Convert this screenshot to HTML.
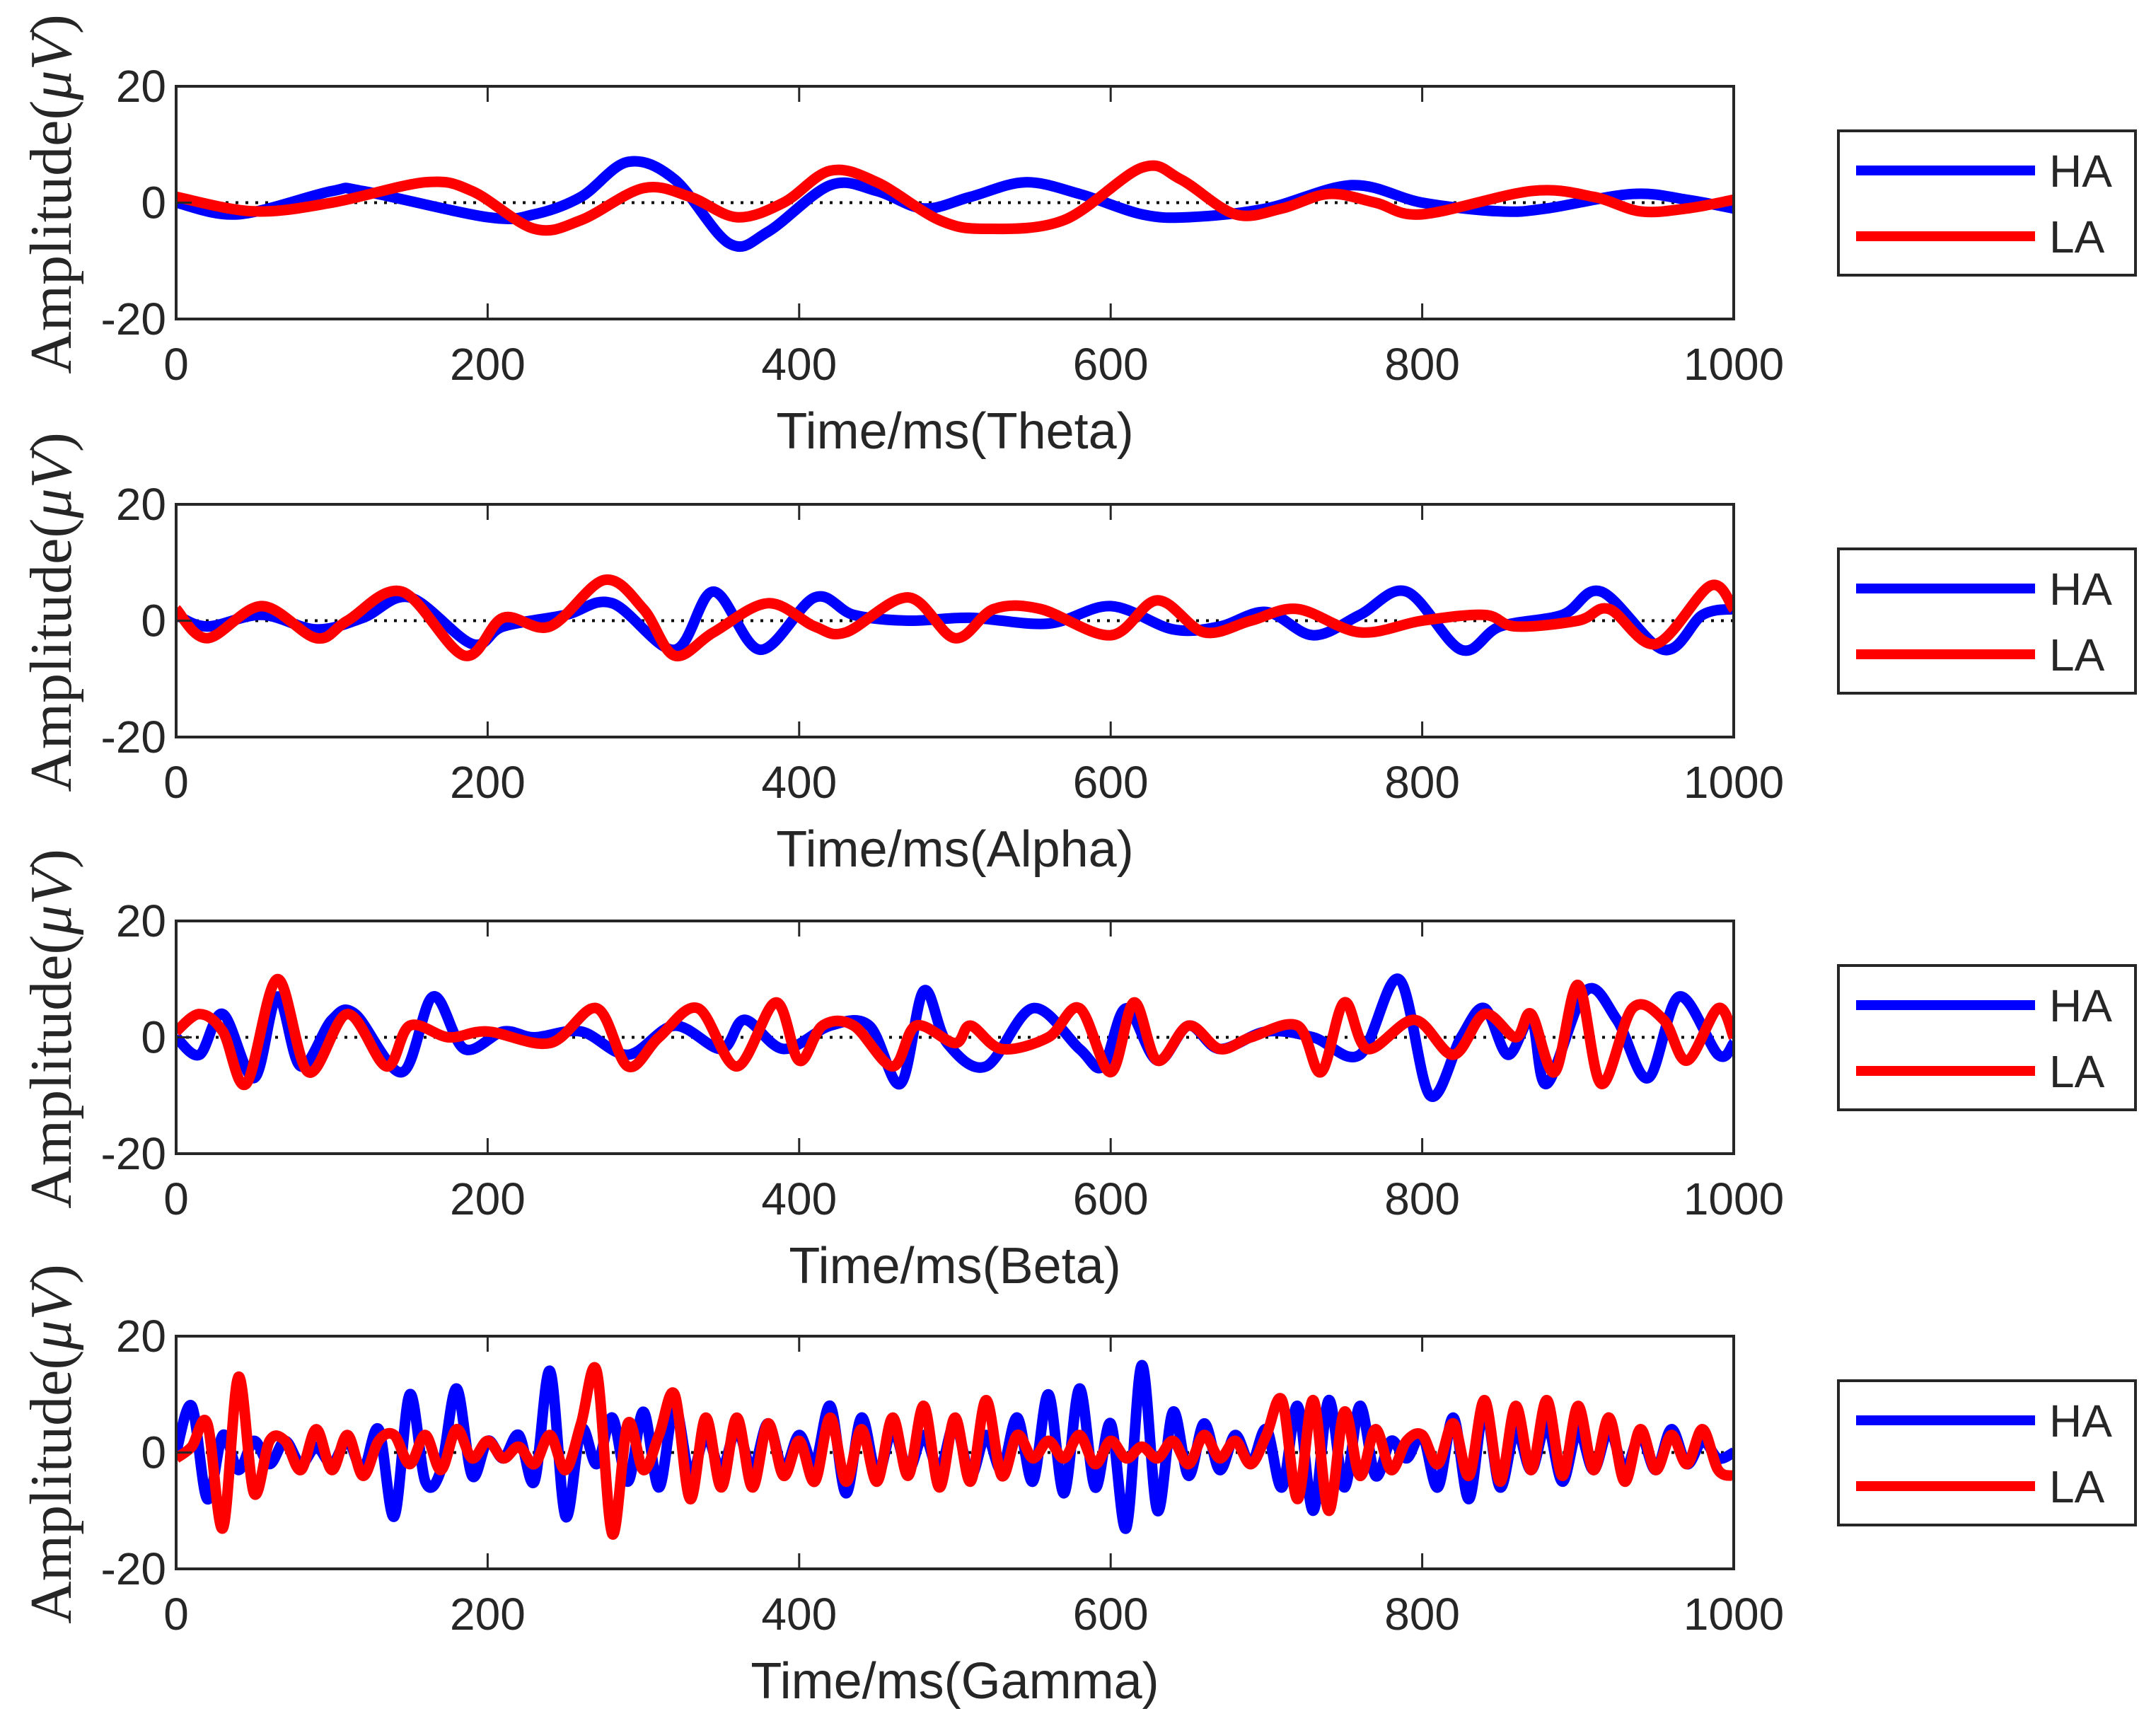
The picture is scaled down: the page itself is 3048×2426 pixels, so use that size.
<!DOCTYPE html>
<html><head><meta charset="utf-8"><style>
html,body{margin:0;padding:0;background:#fff;}
svg{display:block;}
text{fill:#262626;}
</style></head><body>
<svg id="chart" width="3048" height="2426" viewBox="0 0 3048 2426" xmlns="http://www.w3.org/2000/svg"></svg>
<script>
const bandNames = ["Theta","Alpha","Beta","Gamma"];
const xTicks = [0,200,400,600,800,1000];
const yTicks = [20,0,-20];
const legendLabels = ["HA","LA"];

const thetaT_HA = [0,40,100,120,200,230,260,290,320,355,380,420,450,480,510,545,580,620,650,700,755,800,850,880,935,970,1000];
const thetaV_HA = [0,-2,2,2,-2.5,-2,1,7,4,-7,-5,3,2,-1,1,3.5,1.5,-2,-2.5,-1,3,0,-1.5,-1,1.5,0.5,-1];
const thetaT_LA = [0,50,100,160,190,230,260,300,330,360,390,420,450,490,520,570,620,645,680,710,740,770,800,870,910,940,970,1000];
const thetaV_LA = [1,-1.5,0,3.5,2,-4.5,-3,2.5,1,-2.5,0,5.5,3.5,-3,-4.5,-3,6,4,-2,-1,1.5,0,-2,2,1,-1.5,-1,0.5];

const alphaT_HA = [0,20,55,90,120,150,190,210,250,280,320,345,375,410,435,470,510,560,600,640,670,700,730,760,790,825,850,890,915,955,980,1000];
const alphaV_HA = [1,-1,1,-1.5,0.5,4,-4,-1,1,3,-5,5,-5,4,1,0,0.5,-0.5,2.5,-1.5,-1,1.5,-2.5,1,5,-5,-1,1,5,-5,1,2];
const alphaT_LA = [0,20,55,90,110,145,185,210,240,275,300,320,345,380,410,430,470,500,525,555,600,630,660,690,720,760,800,840,860,900,920,950,985,1000];
const alphaV_LA = [2,-3,2.5,-3,0,5,-6,0.5,-1,7,2,-6,-2,3,-1,-2,4,-3,2,2,-2.5,3.5,-2,0,2,-2,0,1,-1,0,2,-4,6,2];

const betaT_HA = [0,15,30,50,65,80,100,115,145,165,185,210,230,260,290,320,350,365,390,420,445,465,480,495,520,550,580,595,610,630,650,670,700,730,760,785,805,825,840,855,870,880,905,925,945,965,990,1000];
const betaV_HA = [0,-3,4,-7,7,-5,3,4,-6,7,-2,1,0,1,-3,2,-2,3,-2,2,2,-8,8,-1,-5,5,-2,-5,5,-4,2,-2,1,0,-3,10,-10,0,5,-3,3,-8,8,3,-7,7,-3,-1];
const betaT_LA = [0,15,30,45,65,85,110,135,150,175,200,240,270,290,310,335,360,385,400,415,435,460,475,500,510,530,560,580,600,615,630,650,670,690,720,735,750,765,795,820,840,860,870,885,900,915,935,955,970,990,1000];
const betaV_LA = [1,4,1,-8,10,-6,4,-5,2,0,1,-1,5,-5,0,5,-5,6,-4,2,2,-5,2,-1,2,-2,0,5,-6,6,-4,2,-2,0,2,-6,6,-2,3,-3,4,0,4,-6,9,-8,5,3,-4,5,0];

const gammaT = [0,10,20,30,40,50,60,70,80,90,100,110,120,130,140,150,160,170,180,190,200,210,220,230,240,250,260,270,280,290,300,310,320,330,340,350,360,370,380,390,400,410,420,430,440,450,460,470,480,490,500,510,520,530,540,550,560,570,580,590,600,610,620,630,640,650,660,670,680,690,700,710,720,730,740,750,760,770,780,790,800,810,820,830,840,850,860,870,880,890,900,910,920,930,940,950,960,970,980,990,1000];
const gammaV_HA = [0,8,-8,3,-3,2,-2,2,-2,1,-2,2,-3,4,-11,10,-5,-3,11,-4,2,-1,3,-5,14,-11,4,-2,6,-5,7,-6,8,-4,3,-3,4,-3,5,-3,3,-2,8,-7,6,-4,4,-3,3,-3,5,-4,3,-3,6,-5,10,-7,11,-6,5,-13,15,-10,7,-4,5,-3,3,-2,4,-6,8,-10,9,-6,8,-4,2,-1,3,-6,6,-8,8,-6,4,-3,5,-5,4,-3,4,-3,3,-3,4,-2,2,-1,0];
const gammaV_LA = [-1,1,5,-13,13,-7,2,2,-3,4,-3,3,-4,2,3,-2,3,-3,4,-1,2,-1,1,-2,3,-3,5,14,-14,5,-3,3,10,-8,6,-6,6,-6,5,-4,2,-5,6,-5,4,-5,6,-4,8,-6,6,-5,9,-4,3,-1,2,-1,3,-2,2,-1,1,-1,2,-2,3,-1,2,-2,3,9,-8,9,-10,7,-4,4,-3,2,3,-2,5,-4,9,-5,8,-3,9,-4,8,-3,6,-5,4,-3,3,-2,4,-3,-4];

const seriesT = [[thetaT_HA,thetaT_LA],[alphaT_HA,alphaT_LA],[betaT_HA,betaT_LA],[gammaT,gammaT]];
const seriesV = [[thetaV_HA,thetaV_LA],[alphaV_HA,alphaV_LA],[betaV_HA,betaV_LA],[gammaV_HA,gammaV_LA]];

const NS = "http://www.w3.org/2000/svg";
const svg = document.getElementById("chart");
const colors = ["#0000ff","#ff0000"];
const L = 249, R = 2451;
const tops = [122,713,1302,1889];
const H = 329;

function mk(tag, attrs, parent){
  const e = document.createElementNS(NS, tag);
  for (const k in attrs) e.setAttribute(k, attrs[k]);
  parent.appendChild(e);
  return e;
}
function smoothPath(pts){
  let d = "M" + pts[0][0].toFixed(1) + "," + pts[0][1].toFixed(1);
  for (let i = 0; i < pts.length - 1; i++){
    const p0 = pts[Math.max(0,i-1)], p1 = pts[i], p2 = pts[i+1], p3 = pts[Math.min(pts.length-1,i+2)];
    const c1x = p1[0] + (p2[0]-p0[0])/6, c1y = p1[1] + (p2[1]-p0[1])/6;
    const c2x = p2[0] - (p3[0]-p1[0])/6, c2y = p2[1] - (p3[1]-p1[1])/6;
    d += " C" + c1x.toFixed(1) + "," + c1y.toFixed(1) + " " + c2x.toFixed(1) + "," + c2y.toFixed(1) + " " + p2[0].toFixed(1) + "," + p2[1].toFixed(1);
  }
  return d;
}

bandNames.forEach((band, p) => {
  const T = tops[p], B = T + H;
  const xs = t => L + (t/1000)*(R-L);
  const ys = v => T + (20 - v)/40*H;
  const g = mk("g", {}, svg);
  
  

  const clipId = "clip" + p;
  const cp = mk("clipPath", {id: clipId}, g);
  mk("rect", {x: L, y: T, width: R-L, height: H}, cp);

  const zl = mk("line", {x1: L, x2: R, y1: ys(0), y2: ys(0), stroke: "#000", "stroke-width": 4, "stroke-dasharray": "4 10"}, g);
  
  

  for (let s = 0; s < 2; s++){
    const pts = seriesT[p][s].map((t,i) => [xs(t), ys(seriesV[p][s][i])]);
    const path = mk("path", {d: smoothPath(pts), fill: "none", stroke: colors[s], "stroke-width": 15, "stroke-linejoin": "round", "clip-path": "url(#" + clipId + ")"}, g);
    
    
  }

  const frame = mk("rect", {x: L, y: T, width: R-L, height: H, fill: "none", stroke: "#262626", "stroke-width": 4}, g);
  
  

  xTicks.forEach(t => {
    const x = xs(t);
    mk("line", {x1: x, x2: x, y1: T, y2: T+22, stroke: "#262626", "stroke-width": 3}, g);
    mk("line", {x1: x, x2: x, y1: B, y2: B-22, stroke: "#262626", "stroke-width": 3}, g);
    const tl = mk("text", {x: x, y: B + 86, "text-anchor": "middle", "font-family": "Liberation Sans, sans-serif", "font-size": 64}, g);
    tl.textContent = t;
    
    
  });
  yTicks.forEach(v => {
    const y = ys(v);
    mk("line", {x1: L, x2: L+22, y1: y, y2: y, stroke: "#262626", "stroke-width": 3}, g);
    const tl = mk("text", {x: L - 14, y: y + 22, "text-anchor": "end", "font-family": "Liberation Sans, sans-serif", "font-size": 64}, g);
    tl.textContent = v;
    
    
  });

  const xt = mk("text", {x: (L+R)/2, y: B + 183, "text-anchor": "middle", "font-family": "Liberation Sans, sans-serif", "font-size": 72}, g);
  xt.textContent = "Time/ms(" + band + ")";
  
  

  const yt = mk("text", {x: 0, y: 0, "text-anchor": "middle", "font-family": "Liberation Serif, serif", "font-size": 84, transform: "translate(100," + (T + H/2 - 12) + ") rotate(-90)"}, g);
  yt.textContent = "Amplitude(";
  const mu = mk("tspan", {"font-style": "italic"}, yt);
  mu.textContent = "μV";
  const cl = mk("tspan", {}, yt);
  cl.textContent = ")";
  
  

  const lg = mk("g", {}, g);
  
  
  const LT = T + 63;
  mk("rect", {x: 2599, y: LT, width: 420, height: 204, fill: "#fff", stroke: "#262626", "stroke-width": 4}, lg);
  legendLabels.forEach((lab, s) => {
    const yy = LT + 56 + s*93;
    const ent = mk("g", {}, lg);
    
    
    mk("line", {x1: 2624, x2: 2877, y1: yy, y2: yy, stroke: colors[s], "stroke-width": 14}, ent);
    const tx = mk("text", {x: 2897, y: yy + 23, "font-family": "Liberation Sans, sans-serif", "font-size": 64}, ent);
    tx.textContent = lab;
  });
});
</script>
</body></html>
